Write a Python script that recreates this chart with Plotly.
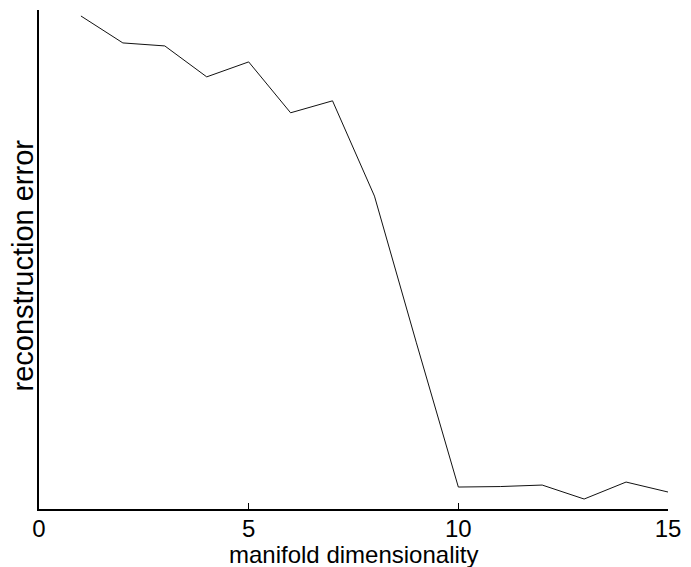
import plotly.graph_objects as go

# Reconstruction error versus the dimensionality of the fitted manifold
dimensionality = [1, 2, 3, 4, 5, 6, 7, 8, 9, 10, 11, 12, 13, 14, 15]
reconstruction_error = [0.988, 0.934, 0.928, 0.866, 0.896, 0.794, 0.818, 0.627,
                        0.333, 0.044, 0.045, 0.048, 0.020, 0.054, 0.034]
x_ticks = [0, 5, 10, 15]

FONT = "Liberation Sans, Arial, Helvetica, sans-serif"

fig = go.Figure()
fig.add_trace(go.Scatter(
    x=dimensionality,
    y=reconstruction_error,
    mode="lines",
    line=dict(color="#111111", width=1),
    showlegend=False,
    hoverinfo="skip",
))

fig.update_layout(
    width=691,
    height=567,
    margin=dict(l=39, r=19, t=10, b=58),
    paper_bgcolor="white",
    plot_bgcolor="white",
    font=dict(family=FONT, size=24, color="black"),
    xaxis=dict(
        range=[0, 15],
        tickvals=x_ticks,
        ticktext=[str(v) for v in x_ticks],
        ticks="inside",
        ticklen=6,
        tickwidth=1,
        tickcolor="black",
        ticklabelstandoff=-3,
        showline=True,
        linecolor="black",
        linewidth=1.5,
        showgrid=False,
        zeroline=False,
        tickfont=dict(family=FONT, size=24, color="black"),
    ),
    yaxis=dict(
        range=[0, 1],
        showticklabels=False,
        ticks="",
        showline=True,
        linecolor="black",
        linewidth=1.5,
        showgrid=False,
        zeroline=False,
    ),
    annotations=[
        dict(
            text="manifold dimensionality",
            xref="paper", yref="paper",
            x=0.5, y=0, yshift=-45,
            xanchor="center", yanchor="middle",
            showarrow=False,
            borderpad=0,
            font=dict(family=FONT, size=24, color="black"),
        ),
        dict(
            text="reconstruction error",
            xref="paper", yref="paper",
            x=0, xshift=-17, y=0.5, yshift=-6,
            xanchor="center", yanchor="middle",
            textangle=-90,
            showarrow=False,
            borderpad=0,
            font=dict(family=FONT, size=29, color="black"),
        ),
    ],
)

fig.write_html("out.html")
